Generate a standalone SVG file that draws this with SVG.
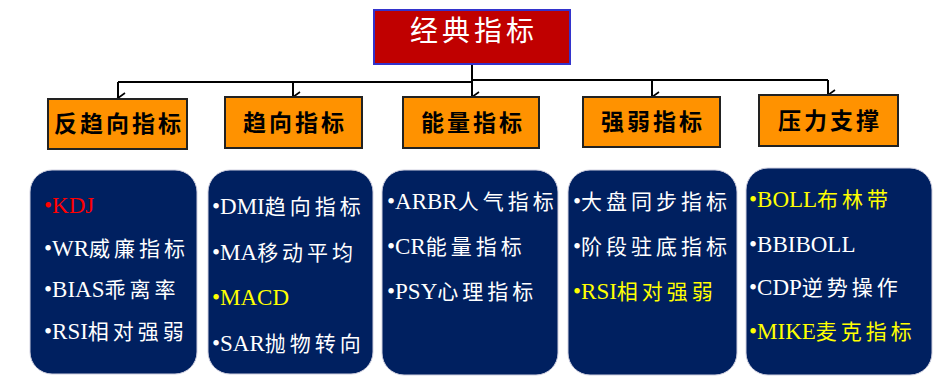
<svg xmlns="http://www.w3.org/2000/svg" width="946" height="383" viewBox="0 0 946 383">
<defs>
<style>
.top{fill:#C00000;stroke:#3333CC;stroke-width:2}
.cat{fill:#FF9200;stroke:#222;stroke-width:2}
.pan{fill:#002060;stroke:#D0D0E0;stroke-width:1}
.title{font-family:'Noto Sans CJK SC',sans-serif;font-size:28px;fill:#fff;letter-spacing:4px}
.ct{font-family:'Noto Sans CJK SC',sans-serif;font-size:23px;font-weight:bold;fill:#000;letter-spacing:3px}
.it{font-size:23px;fill:#fff}
.lt{font-family:'Liberation Serif',serif}
.cj{font-family:'Noto Sans CJK SC',sans-serif;font-size:21px;letter-spacing:4px}
.y{fill:#FFFF00}
.r{fill:#FF0000}
.ln{fill:none;stroke:#000;stroke-width:2}
</style>
<marker id="ah" markerWidth="12" markerHeight="12" refX="6" refY="10" orient="auto-start-reverse" markerUnits="userSpaceOnUse" viewBox="0 0 12 12">
<path d="M1,3 L6,10 L11,3" fill="none" stroke="#000" stroke-width="1.6"/>
</marker>
</defs>
<rect width="946" height="383" fill="#fff"/>

<g id="connectors">
<path class="ln" d="M472,64 V81" stroke-width="3"/>
<path class="ln" d="M118,82 H472"/>
<path class="ln" d="M472,80 H828"/>
<path class="ln" d="M118,82 V98" marker-end="url(#ah)"/>
<path class="ln" d="M293,82 V97" marker-end="url(#ah)"/>
<path class="ln" d="M472,81 V97" marker-end="url(#ah)"/>
<path class="ln" d="M652,80 V97" marker-end="url(#ah)"/>
<path class="ln" d="M828,80 V95" marker-end="url(#ah)"/>
</g>

<g id="root">
<rect class="top" x="374" y="10" width="196" height="54"/>
<text class="title" x="474" y="41" text-anchor="middle">经典指标</text>
</g>

<g id="cat1"><rect class="cat" x="48" y="99" width="139" height="50"/><text class="ct" x="119" y="132" text-anchor="middle">反趋向指标</text></g>
<g id="cat2"><rect class="cat" x="225" y="97" width="137" height="51"/><text class="ct" x="295" y="131" text-anchor="middle">趋向指标</text></g>
<g id="cat3"><rect class="cat" x="403" y="97" width="136" height="51"/><text class="ct" x="473" y="131" text-anchor="middle">能量指标</text></g>
<g id="cat4"><rect class="cat" x="583" y="97" width="137" height="50"/><text class="ct" x="653" y="130" text-anchor="middle">强弱指标</text></g>
<g id="cat5"><rect class="cat" x="759" y="95" width="139" height="51"/><text class="ct" x="830" y="129" text-anchor="middle">压力支撑</text></g>

<g id="panel1" font-family="Liberation Serif, serif">
<rect class="pan" x="30" y="170" width="167" height="204" rx="22"/>
<text class="it r" x="44" y="213"><tspan class="lt">•KDJ</tspan></text>
<text class="it" x="44" y="256"><tspan class="lt">•WR</tspan><tspan class="cj">威廉指标</tspan></text>
<text class="it" x="44" y="297"><tspan class="lt">•BIAS</tspan><tspan class="cj">乖离率</tspan></text>
<text class="it" x="44" y="339"><tspan class="lt">•RSI</tspan><tspan class="cj">相对强弱</tspan></text>
</g>

<g id="panel2" font-family="Liberation Serif, serif">
<rect class="pan" x="208" y="170" width="165" height="204" rx="22"/>
<text class="it" x="212" y="214"><tspan class="lt">•DMI</tspan><tspan class="cj" letter-spacing="8">趋向指标</tspan></text>
<text class="it" x="212" y="260"><tspan class="lt">•MA</tspan><tspan class="cj" letter-spacing="8">移动平均</tspan></text>
<text class="it y" x="212" y="305"><tspan class="lt">•MACD</tspan></text>
<text class="it" x="212" y="351"><tspan class="lt">•SAR</tspan><tspan class="cj" letter-spacing="8">抛物转向</tspan></text>
</g>

<g id="panel3" font-family="Liberation Serif, serif">
<rect class="pan" x="382" y="170" width="176" height="205" rx="22"/>
<text class="it" x="387" y="209"><tspan class="lt">•ARBR</tspan><tspan class="cj">人气指标</tspan></text>
<text class="it" x="387" y="254"><tspan class="lt">•CR</tspan><tspan class="cj">能量指标</tspan></text>
<text class="it" x="387" y="299"><tspan class="lt">•PSY</tspan><tspan class="cj">心理指标</tspan></text>
</g>

<g id="panel4" font-family="Liberation Serif, serif">
<rect class="pan" x="568" y="170" width="169" height="205" rx="22"/>
<text class="it" x="573" y="209"><tspan class="lt">•</tspan><tspan class="cj">大盘同步指标</tspan></text>
<text class="it" x="573" y="254"><tspan class="lt">•</tspan><tspan class="cj">阶段驻底指标</tspan></text>
<text class="it y" x="573" y="299"><tspan class="lt">•RSI</tspan><tspan class="cj">相对强弱</tspan></text>
</g>

<g id="panel5" font-family="Liberation Serif, serif">
<rect class="pan" x="746" y="168" width="186" height="207" rx="22"/>
<text class="it y" x="749" y="207"><tspan class="lt">•BOLL</tspan><tspan class="cj">布林带</tspan></text>
<text class="it" x="749" y="252"><tspan class="lt">•BBIBOLL</tspan></text>
<text class="it" x="749" y="295"><tspan class="lt">•CDP</tspan><tspan class="cj">逆势操作</tspan></text>
<text class="it y" x="749" y="339"><tspan class="lt">•MIKE</tspan><tspan class="cj">麦克指标</tspan></text>
</g>
</svg>
